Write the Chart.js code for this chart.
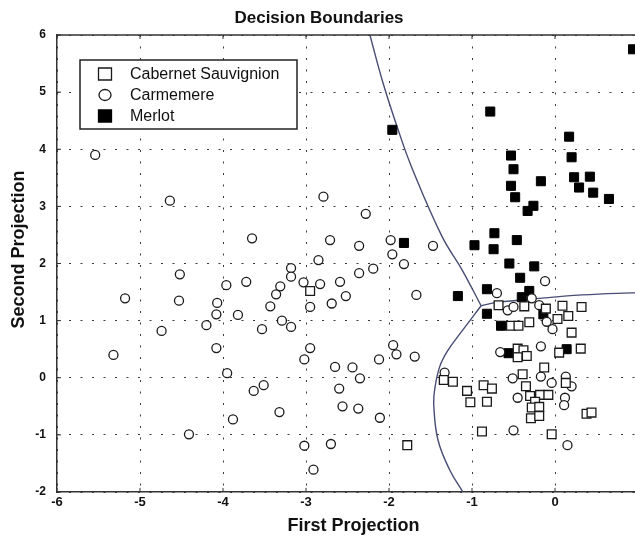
<!DOCTYPE html>
<html>
<head>
<meta charset="utf-8">
<script src="https://cdn.jsdelivr.net/npm/chart.js@4.4.0/dist/chart.umd.min.js"></script>
<style>
html, body { margin: 0; padding: 0; overflow: hidden; background: #fff; }
</style>
</head>
<body>
<canvas id="boundaryChart" width="722" height="537"></canvas>
<script>
var seriesNames = ["Cabernet Sauvignion", "Carmemere", "Merlot"];
var xTickLabels = [-6, -5, -4, -3, -2, -1, 0];
var yTickLabels = [-2, -1, 0, 1, 2, 3, 4, 5, 6];
var xAxisTitle = "First Projection";
var yAxisTitle = "Second Projection";

// [first projection, second projection]
var cabernet = [
    [-2.95, 1.52], [-1.78, -1.18], [-1.34, -0.04], [-1.23, -0.07], [-0.68, 1.27],
    [-0.37, 1.25], [-0.11, 1.21], [0.09, 1.26], [0.32, 1.24], [0.16, 1.08],
    [0.03, 1.03], [-0.53, 0.91], [-0.44, 0.91], [-0.31, 0.97], [0.20, 0.79],
    [-0.45, 0.51], [-0.38, 0.48], [-0.45, 0.36], [-0.34, 0.38], [0.05, 0.44],
    [0.31, 0.51], [-0.39, 0.06], [-0.13, 0.18], [0.13, -0.09], [-0.35, -0.15],
    [-1.06, -0.23], [-0.86, -0.13], [-0.76, -0.19], [-1.02, -0.43], [-0.82, -0.42],
    [-0.30, -0.32], [-0.18, -0.30], [-0.08, -0.30], [-0.24, -0.42], [-0.28, -0.52],
    [-0.19, -0.51], [-0.29, -0.71], [-0.19, -0.67], [0.38, -0.63], [0.44, -0.61],
    [-0.88, -0.94], [-0.04, -0.99]
];
var carmenere = [
    [-5.54, 3.90], [-4.64, 3.10], [-3.65, 2.44], [-4.52, 1.81], [-5.18, 1.39],
    [-4.53, 1.35], [-3.96, 1.62], [-3.72, 1.68], [-4.07, 1.31], [-4.08, 1.11],
    [-4.20, 0.92], [-3.82, 1.10], [-4.74, 0.82], [-3.53, 0.85], [-3.29, 1.00],
    [-3.18, 0.89], [-3.43, 1.25], [-3.36, 1.46], [-3.31, 1.60], [-3.18, 1.92],
    [-3.18, 1.77], [-3.03, 1.67], [-2.95, 1.24], [-2.85, 2.06], [-2.95, 0.52],
    [-4.08, 0.52], [-2.79, 3.17], [-2.28, 2.87], [-2.71, 2.41], [-2.36, 2.31],
    [-1.98, 2.41], [-1.47, 2.31], [-1.96, 2.16], [-1.82, 1.99], [-2.19, 1.91],
    [-2.36, 1.83], [-2.83, 1.64], [-2.59, 1.68], [-2.52, 1.43], [-2.69, 1.30],
    [-1.67, 1.45], [-3.02, 0.32], [-2.65, 0.19], [-2.44, 0.18], [-2.12, 0.32],
    [-1.95, 0.57], [-1.91, 0.41], [-1.69, 0.37], [-3.95, 0.08], [-3.51, -0.13],
    [-3.63, -0.23], [-3.88, -0.73], [-3.32, -0.60], [-2.35, -0.01], [-2.60, -0.19],
    [-2.56, -0.50], [-2.37, -0.54], [-2.11, -0.70], [-3.02, -1.19], [-2.70, -1.16],
    [-2.91, -1.61], [-1.33, 0.09], [-5.32, 0.40], [-4.41, -0.99], [-0.12, 1.69],
    [-0.70, 1.48], [-0.28, 1.39], [-0.57, 1.18], [-0.50, 1.24], [-0.19, 1.27],
    [-0.10, 0.98], [-0.03, 0.85], [-0.66, 0.45], [-0.17, 0.55], [-0.51, -0.01],
    [-0.17, 0.02], [-0.04, -0.09], [0.13, 0.02], [0.20, -0.15], [-0.45, -0.35],
    [0.12, -0.35], [0.11, -0.48], [-0.50, -0.92], [0.15, -1.18]
];
var merlot = [
    [0.94, 5.75], [-0.78, 4.66], [-1.96, 4.34], [0.17, 4.22], [0.20, 3.86],
    [-0.53, 3.89], [-0.50, 3.65], [-0.53, 3.36], [-0.48, 3.16], [-0.17, 3.44],
    [-0.33, 2.92], [-0.26, 3.01], [0.23, 3.51], [0.42, 3.52], [0.29, 3.33],
    [0.46, 3.24], [0.65, 3.13], [-0.73, 2.53], [-0.97, 2.32], [-0.74, 2.25],
    [-0.46, 2.41], [-0.55, 2.00], [-0.25, 1.95], [-0.42, 1.75], [-1.82, 2.36],
    [-1.17, 1.43], [-0.82, 1.55], [-0.31, 1.52], [-0.40, 1.41], [-0.82, 1.12],
    [-0.14, 1.11], [-0.65, 0.91], [-0.56, 0.43], [0.14, 0.50]
];

// decision boundary curves
var boundaryUpper = [[-2.23, 6.0], [-2.07, 5.15], [-1.89, 4.34], [-1.72, 3.66], [-1.36, 2.47], [-1.12, 1.89], [-0.89, 1.26]];
var boundaryRight = [[-0.89, 1.26], [-0.70, 1.32], [-0.40, 1.36], [0.33, 1.45], [1.0, 1.49]];
var boundaryLower = [[-0.89, 1.26], [-1.14, 0.78], [-1.29, 0.48], [-1.39, 0.19], [-1.45, -0.21], [-1.46, -0.50], [-1.41, -1.09], [-1.27, -1.61], [-1.11, -2.0]];

function toPoints(arr) {
    return arr.map(function (p) { return { x: p[0], y: p[1] }; });
}

function boundaryDataset(arr) {
    return {
        data: toPoints(arr),
        showLine: true,
        borderColor: "#474d73",
        borderWidth: 1.4,
        pointRadius: 0,
        tension: 0.4,
        fill: false
    };
}

var markInk = "#1a1a1a";
var fontFamily = "'Liberation Sans', Arial, sans-serif";

// axes frame, inward ticks, axis titles and the legend box
var frameAndLegend = {
    id: "frameAndLegend",
    afterDatasetsDraw: function (chart) {
        var ctx = chart.ctx;
        var area = chart.chartArea;
        var xs = chart.scales.x, ys = chart.scales.y;
        ctx.save();
        ctx.strokeStyle = "#333";
        ctx.lineWidth = 1.5;
        ctx.beginPath();
        ctx.moveTo(area.left, area.top);
        ctx.lineTo(area.right, area.top);
        ctx.lineTo(area.right, area.bottom);
        ctx.stroke();
        ctx.lineWidth = 1;
        ctx.beginPath();
        xTickLabels.forEach(function (v) {
            var px = xs.getPixelForValue(v);
            ctx.moveTo(px, area.bottom);
            ctx.lineTo(px, area.bottom - 4);
            ctx.moveTo(px, area.top);
            ctx.lineTo(px, area.top + 4);
        });
        yTickLabels.forEach(function (v) {
            var py = ys.getPixelForValue(v);
            ctx.moveTo(area.left, py);
            ctx.lineTo(area.left + 4, py);
        });
        ctx.stroke();

        // axis titles
        ctx.fillStyle = "#111";
        ctx.font = "bold 18px " + fontFamily;
        ctx.textAlign = "center";
        ctx.textBaseline = "middle";
        ctx.fillText(xAxisTitle, (area.left + area.right) / 2 + 6, area.bottom + 34);
        ctx.save();
        ctx.translate(19, (area.top + area.bottom) / 2 - 14);
        ctx.rotate(-Math.PI / 2);
        ctx.fillText(yAxisTitle, 0, 0);
        ctx.restore();

        // legend
        var left = area.left + 23, top = area.top + 25, w = 217, h = 69;
        ctx.fillStyle = "#fff";
        ctx.fillRect(left, top, w, h);
        ctx.strokeStyle = "#222";
        ctx.lineWidth = 1.5;
        ctx.strokeRect(left, top, w, h);
        ctx.font = "16px " + fontFamily;
        ctx.textBaseline = "middle";
        ctx.textAlign = "left";
        for (var i = 0; i < 3; i++) {
            var ds = chart.data.datasets[i];
            var cx = left + 25, cy = top + 14 + i * 21;
            ctx.fillStyle = ds.backgroundColor;
            ctx.strokeStyle = ds.borderColor;
            ctx.lineWidth = 1.3;
            ctx.beginPath();
            if (ds.pointStyle === "circle") {
                ctx.ellipse(cx, cy, 6, 5.5, 0, 0, Math.PI * 2);
            } else {
                ctx.rect(cx - 6.5, cy - 6, 13, 12);
            }
            ctx.fill();
            ctx.stroke();
            ctx.fillStyle = "#111";
            ctx.fillText(ds.label, left + 50, cy + 1);
        }
        ctx.restore();
    }
};

var ctx = document.getElementById("boundaryChart").getContext("2d");

var boundaryChart = new Chart(ctx, {
    type: "scatter",
    data: {
        datasets: [
            {
                label: seriesNames[0],
                data: toPoints(cabernet),
                pointStyle: "rect",
                pointRadius: 6.2,
                backgroundColor: "#fff",
                borderColor: markInk,
                borderWidth: 1.3
            },
            {
                label: seriesNames[1],
                data: toPoints(carmenere),
                pointStyle: "circle",
                pointRadius: 4.5,
                backgroundColor: "#fff",
                borderColor: markInk,
                borderWidth: 1.3
            },
            {
                label: seriesNames[2],
                data: toPoints(merlot),
                pointStyle: "rect",
                pointRadius: 6.4,
                backgroundColor: "#000",
                borderColor: "#000",
                borderWidth: 1
            },
            boundaryDataset(boundaryUpper),
            boundaryDataset(boundaryRight),
            boundaryDataset(boundaryLower)
        ]
    },
    options: {
        responsive: false,
        animation: false,
        devicePixelRatio: 1,
        layout: { padding: { right: 84 } },
        plugins: {
            legend: { display: false },
            tooltip: { enabled: false },
            title: {
                display: true,
                text: "Decision Boundaries",
                color: "#111",
                font: { family: fontFamily, size: 17, weight: "bold" },
                padding: { top: 8, bottom: 6.6 }
            }
        },
        scales: {
            x: {
                type: "linear",
                position: "bottom",
                min: -6,
                max: 1,
                afterFit: function (scale) { scale.height = 45; },
                ticks: {
                    stepSize: 1,
                    padding: 3,
                    color: "#111",
                    font: { family: fontFamily, size: 13, weight: "bold" },
                    callback: function (v) { return xTickLabels.indexOf(v) >= 0 ? String(v) : ""; }
                },
                grid: { color: "#3a3a3a", lineWidth: 1, drawTicks: false },
                border: { display: true, color: "#333", width: 1.5, dash: [2, 9.5] }
            },
            y: {
                type: "linear",
                min: -2,
                max: 6,
                afterFit: function (scale) { scale.width = 57; },
                ticks: {
                    stepSize: 1,
                    padding: 11,
                    color: "#111",
                    font: { family: fontFamily, size: 12, weight: "bold" }
                },
                grid: { color: "#3a3a3a", lineWidth: 1, drawTicks: false },
                border: { display: true, color: "#333", width: 1.5, dash: [2, 9.5] }
            }
        }
    },
    plugins: [frameAndLegend]
});
</script>
</body>
</html>
